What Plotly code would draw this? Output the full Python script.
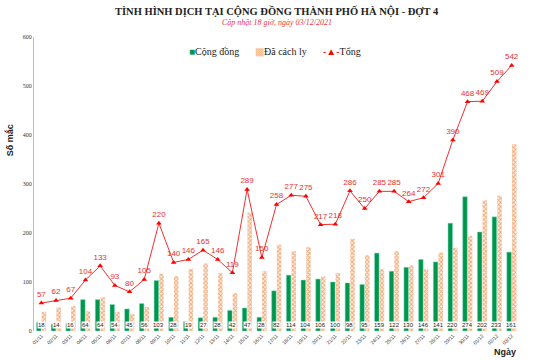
import plotly.graph_objects as go

days = ["01/11","02/11","03/11","04/11","05/11","06/11","07/11","08/11","09/11","10/11",
        "11/11","12/11","13/11","14/11","15/11","16/11","17/11","18/11","19/11","20/11",
        "21/11","22/11","23/11","24/11","25/11","26/11","27/11","28/11","29/11","30/11",
        "01/12","02/12","03/12"]
cong_dong = [18,14,16,64,64,54,45,56,103,28,19,27,28,42,47,28,82,114,104,106,100,98,95,
             159,122,130,146,141,220,274,202,233,161]
da_cach_ly = [39,48,51,40,69,39,35,49,117,112,127,138,118,77,242,122,176,163,171,111,118,
              188,155,126,163,134,126,160,170,194,267,276,381]
tong = [57,62,67,104,133,93,80,105,220,140,146,165,146,119,289,150,258,277,275,217,218,
        286,250,285,285,264,272,301,390,468,469,509,542]

GREEN = "#00964B"
PEACH = "#F4B183"
RED = "#FF0000"

fig = go.Figure()
fig.add_trace(go.Bar(x=days, y=cong_dong, name="Cộng đồng",
                     marker=dict(color=GREEN, line=dict(color="#7FD9C0", width=0.5))))
fig.add_trace(go.Bar(x=days, y=da_cach_ly, name="Đã cách ly",
                     marker=dict(color=PEACH, line=dict(width=0),
                                 pattern=dict(shape="x", size=3, solidity=0.55,
                                              fgcolor="#F2A977", bgcolor="#FDF0E6",
                                              fillmode="replace"))))
fig.add_trace(go.Scatter(x=days, y=tong, name="Tổng", mode="lines+markers+text",
                         line=dict(color="#F03030", width=1),
                         marker=dict(symbol="triangle-up", size=5, color=RED),
                         text=[str(v) for v in tong], textposition="top center",
                         textfont=dict(family="Liberation Sans", size=8, color="#E83030"),
                         cliponaxis=False))

for d, v in zip(days, cong_dong):
    fig.add_annotation(x=d, y=0, yanchor="bottom", text=str(v), showarrow=False,
                       font=dict(family="Liberation Sans", size=6, color="#222222"),
                       bgcolor="#FFFFFF", borderpad=0, yshift=2)

fig.add_annotation(xref="paper", yref="paper", x=0.5, y=1.088, yanchor="middle",
                   text="<b>TÌNH HÌNH DỊCH TẠI CỘNG ĐỒNG THÀNH PHỐ HÀ NỘI - ĐỢT 4</b>",
                   showarrow=False, font=dict(family="Liberation Serif", size=10.5, color="#222222"))
fig.add_annotation(xref="paper", yref="paper", x=0.5, y=1.051, yanchor="middle",
                   text="<i>Cập nhật 18 giờ, ngày 03/12/2021</i>",
                   showarrow=False, font=dict(family="Liberation Serif", size=8, color="#E8383D"))
fig.add_annotation(xref="paper", yref="paper", x=0.998, y=-0.071, yanchor="middle", text="<b>Ngày</b>",
                   showarrow=False, font=dict(family="Liberation Sans", size=9, color="#222222"))
fig.add_annotation(xref="paper", yref="paper", x=-0.049, y=0.65, xanchor="center", yanchor="middle",
                   text="<b>Số mắc</b>", textangle=-90,
                   showarrow=False, font=dict(family="Liberation Sans", size=9, color="#222222"))

# legend (drawn as text entries)
legend_items = [
    (0.315, f"<span style='color:{GREEN}'>■</span>Cộng đồng"),
    (0.452, f"<span style='color:{PEACH}'>▩</span>Đã cách ly"),
    (0.592, f"<span style='color:{RED}'>-▲-</span>Tổng"),
]
for lx, ltxt in legend_items:
    fig.add_annotation(xref="paper", yref="paper", x=lx, y=0.949, xanchor="left", yanchor="middle",
                       text=ltxt, showarrow=False,
                       font=dict(family="Liberation Serif", size=10, color="#222222"))

fig.update_layout(
    width=540, height=360,
    margin=dict(l=34, r=21, t=37, b=29),
    paper_bgcolor="#FFFFFF", plot_bgcolor="#FFFFFF",
    barmode="group", bargap=0.3, bargroupgap=0.12,
    showlegend=False,
    xaxis=dict(type="category", range=[-0.5, 32.5], tickangle=-45,
               tickfont=dict(family="Liberation Sans", size=5, color="#333333"),
               showgrid=False, showline=False, ticks="", zeroline=False, automargin=False),
    yaxis=dict(range=[0, 600], dtick=100, showgrid=False, zeroline=False,
               showline=True, linecolor="#BFBFBF", linewidth=1, ticks="", automargin=False,
               tickfont=dict(family="Liberation Serif", size=6, color="#333333")),
)

fig.write_html("out.html", config={"displayModeBar": False},
               post_script="document.body.style.margin='0';")
